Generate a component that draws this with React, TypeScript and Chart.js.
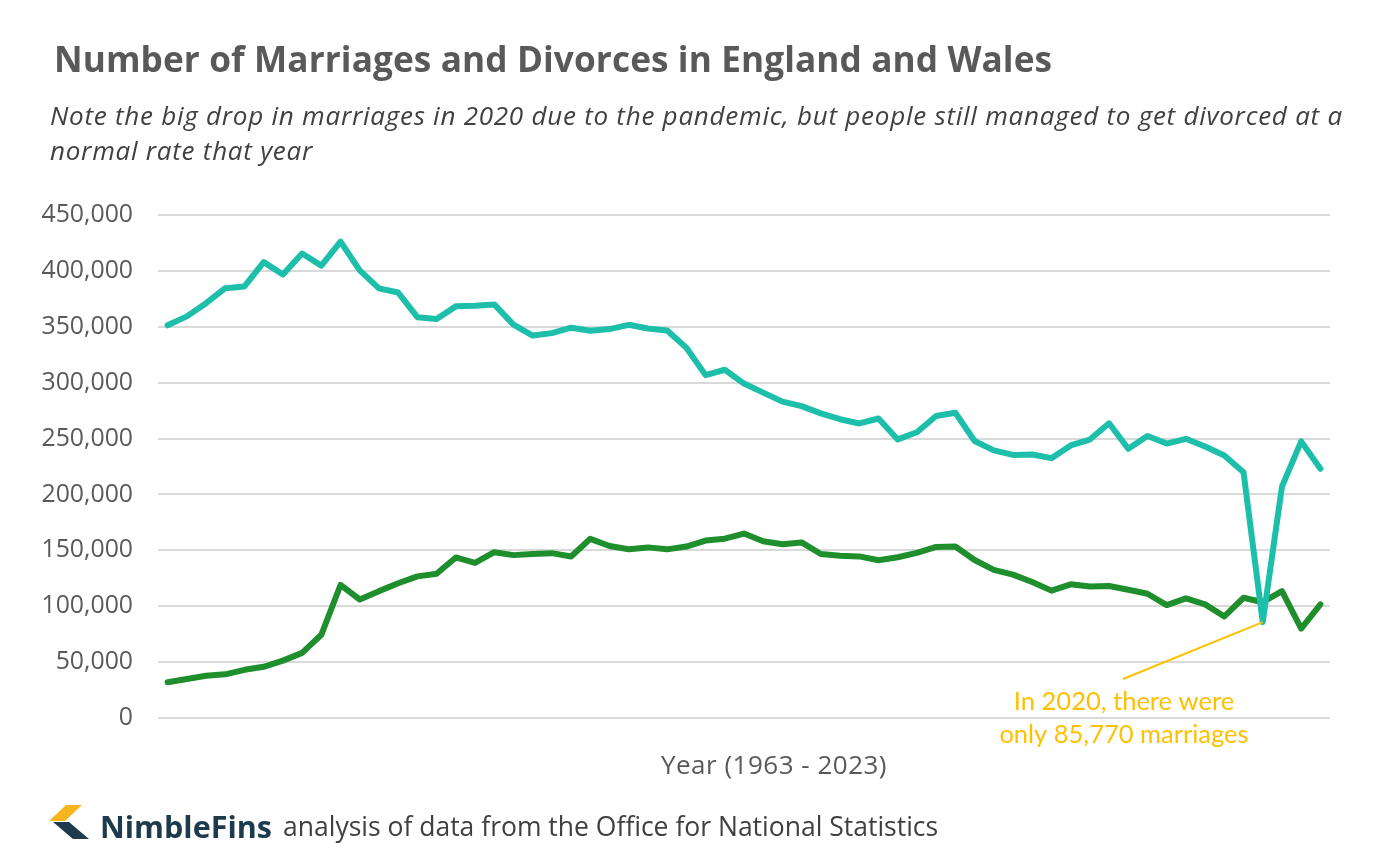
import React, { useEffect, useRef } from "react";
import { Chart, registerables } from "chart.js";

Chart.register(...registerables);

// Years 1963 - 2023
const years: string[] = [
  "1963","1964","1965","1966","1967","1968","1969","1970","1971","1972",
  "1973","1974","1975","1976","1977","1978","1979","1980","1981","1982",
  "1983","1984","1985","1986","1987","1988","1989","1990","1991","1992",
  "1993","1994","1995","1996","1997","1998","1999","2000","2001","2002",
  "2003","2004","2005","2006","2007","2008","2009","2010","2011","2012",
  "2013","2014","2015","2016","2017","2018","2019","2020","2021","2022",
  "2023",
];

const marriages: number[] = [
  351329, 359307, 371127, 384497, 386052, 407822, 396746, 415487, 404737, 426241,
  400435, 384389, 380620, 358567, 356954, 368258, 368853, 370022, 351973, 342166,
  344334, 349186, 346389, 347924, 351761, 348492, 346697, 331150, 306756, 311564,
  299197, 291069, 283012, 278975, 272536, 267303, 263515, 267961, 249227, 255596,
  270109, 273069, 247805, 239454, 235367, 235794, 232443, 243808, 249133, 263640,
  240854, 252222, 245513, 249793, 242842, 234795, 219850, 85770, 207000, 247500,
  223000,
];

const divorces: number[] = [
  32052, 34868, 37785, 39067, 43093, 45794, 51310, 58239, 74437, 119025,
  106003, 113500, 120522, 126694, 129053, 143667, 138706, 148301, 145713, 146698,
  147479, 144501, 160300, 153903, 151007, 152633, 150872, 153386, 158745, 160385,
  165018, 158175, 155499, 157107, 146689, 145214, 144556, 141135, 143818, 147735,
  153065, 153399, 141322, 132562, 128232, 121708, 113949, 119589, 117558, 118140,
  114720, 111169, 101055, 106959, 101669, 90871, 107599, 103592, 113505, 80057,
  101643,
];

const yTicks: number[] = [0, 50000, 100000, 150000, 200000, 250000, 300000, 350000, 400000, 450000];

const titleText = "Number of Marriages and Divorces in England and Wales";
const subtitleLines: string[] = [
  "Note the big drop in marriages in 2020 due to the pandemic, but people still managed to get divorced at a",
  "normal rate that year",
];
const axisTitle = "Year (1963 - 2023)";
const noteLines: string[] = ["In 2020, there were", "only 85,770 marriages"];
const noteYear = "2020";
const sourceText = "analysis of data from the Office for National Statistics";

const TEAL = "#1DBFAA";
const GREEN = "#1E8F2C";
const GOLD = "#FFC000";
const GRID = "#D9D9D9";
const FONT = "'Open Sans', 'Noto Sans', sans-serif";

const fmt = (v: number) => v.toLocaleString("en-US");

// Callout line and text pointing at the 2020 marriages value
const calloutPlugin = {
  id: "callout",
  afterDatasetsDraw(chart: any) {
    const idx = years.indexOf(noteYear);
    const pt = chart.getDatasetMeta(0).data[idx];
    if (!pt) return;
    const ctx = chart.ctx as CanvasRenderingContext2D;
    const tx = 1124;
    const ty = 702;
    ctx.save();
    ctx.strokeStyle = GOLD;
    ctx.lineWidth = 2;
    ctx.beginPath();
    ctx.moveTo(pt.x, pt.y);
    ctx.lineTo(tx - 1, ty - 23);
    ctx.stroke();
    ctx.fillStyle = GOLD;
    ctx.font = `25.5px Lato, ${FONT}`;
    ctx.textAlign = "center";
    ctx.textBaseline = "middle";
    noteLines.forEach((l, i) => ctx.fillText(l, tx, ty + i * 33));
    ctx.restore();
  },
};

export default function App() {
  const ref = useRef<HTMLCanvasElement | null>(null);

  useEffect(() => {
    if (!ref.current) return;
    const chart = new Chart(ref.current, {
      type: "line",
      data: {
        labels: years,
        datasets: [
          {
            label: "Marriages",
            data: marriages,
            borderColor: TEAL,
            backgroundColor: TEAL,
            borderWidth: 6,
            pointRadius: 0,
            tension: 0,
            borderJoinStyle: "round",
            borderCapStyle: "round",
          },
          {
            label: "Divorces",
            data: divorces,
            borderColor: GREEN,
            backgroundColor: GREEN,
            borderWidth: 6,
            pointRadius: 0,
            tension: 0,
            borderJoinStyle: "round",
            borderCapStyle: "round",
          },
        ],
      },
      options: {
        animation: false,
        responsive: false,
        maintainAspectRatio: false,
        layout: { padding: { top: 215, bottom: 134, left: 0, right: 70 } },
        plugins: {
          legend: { display: false },
          tooltip: { enabled: false },
        },
        scales: {
          x: {
            display: false,
            offset: true,
          },
          y: {
            min: 0,
            max: 450000,
            afterFit(scale: any) {
              scale.width = 158;
            },
            afterBuildTicks(scale: any) {
              scale.ticks = yTicks.map((v) => ({ value: v }));
            },
            grid: { color: GRID, lineWidth: 2, drawTicks: false },
            border: { display: false },
            ticks: {
              padding: 25,
              color: "#595959",
              font: { family: FONT, size: 24.8 },
              callback: (v: any) => fmt(Number(v)),
            },
          },
        },
      },
      plugins: [calloutPlugin],
    });
    return () => chart.destroy();
  }, []);

  return (
    <div
      style={{
        position: "absolute",
        left: 0,
        top: 0,
        width: 1400,
        height: 852,
        background: "#fff",
        fontFamily: FONT,
        overflow: "hidden",
      }}
    >
      <canvas ref={ref} width={1400} height={852} style={{ position: "absolute", left: 0, top: 0 }} />
      <div
        style={{
          position: "absolute",
          left: 54,
          top: 34,
          fontSize: 35.2,
          letterSpacing: 0.1,
          fontWeight: 700,
          color: "#595959",
          whiteSpace: "nowrap",
        }}
      >
        {titleText}
      </div>
      {subtitleLines.map((l, i) => (
        <div
          key={i}
          style={{
            position: "absolute",
            left: 50,
            top: 97 + i * 35,
            fontSize: 26,
            letterSpacing: 0.75,
            fontStyle: "italic",
            color: "#404040",
            whiteSpace: "nowrap",
          }}
        >
          {l}
        </div>
      ))}
      <div
        style={{
          position: "absolute",
          left: 574,
          width: 400,
          top: 746,
          textAlign: "center",
          fontSize: 26,
          letterSpacing: 0.5,
          color: "#595959",
          whiteSpace: "nowrap",
        }}
      >
        {axisTitle}
      </div>
      <svg
        width={50}
        height={40}
        style={{ position: "absolute", left: 45, top: 801 }}
        viewBox="0 0 50 40"
      >
        <polygon points="21,4 37,4 20,20 4,20" fill="#F6B51C" />
        <polygon points="8,21 24,21 44,38 28,38" fill="#1D3B4C" />
      </svg>
      <div
        style={{
          position: "absolute",
          left: 100,
          top: 805,
          whiteSpace: "nowrap",
          fontWeight: 700,
          fontSize: 30.5,
          color: "#1D3B4C",
        }}
      >
        NimbleFins
      </div>
      <div
        style={{
          position: "absolute",
          left: 283,
          top: 808,
          whiteSpace: "nowrap",
          color: "#404040",
          fontSize: 26.5,
        }}
      >
        {sourceText}
      </div>
    </div>
  );
}
